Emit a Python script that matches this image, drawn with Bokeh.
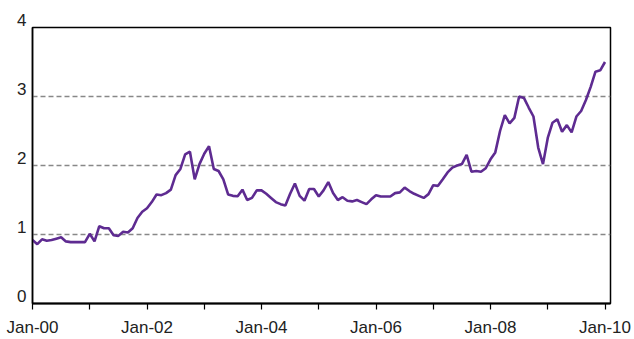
from bokeh.plotting import figure
from bokeh.models import Range1d, FixedTicker
from bokeh.embed import file_html
from bokeh.resources import INLINE

# Monthly series, Jan-2000 (month 0) to Jan-2010 (month 120)
values = [
    0.92, 0.86, 0.93, 0.91, 0.92, 0.94, 0.96, 0.90, 0.89, 0.89, 0.89, 0.89,   # 2000
    1.01, 0.90, 1.12, 1.09, 1.09, 0.99, 0.98, 1.04, 1.03, 1.09, 1.24, 1.33,   # 2001
    1.38, 1.47, 1.58, 1.57, 1.60, 1.65, 1.86, 1.95, 2.16, 2.20, 1.80, 2.02,   # 2002
    2.17, 2.28, 1.95, 1.92, 1.80, 1.58, 1.56, 1.555, 1.65, 1.50, 1.53, 1.64,  # 2003
    1.64, 1.59, 1.53, 1.47, 1.44, 1.42, 1.59, 1.74, 1.56, 1.49, 1.66, 1.66,   # 2004
    1.55, 1.64, 1.76, 1.60, 1.50, 1.54, 1.49, 1.48, 1.50, 1.47, 1.44, 1.51,   # 2005
    1.57, 1.55, 1.55, 1.55, 1.60, 1.61, 1.68, 1.63, 1.59, 1.56, 1.53, 1.585,  # 2006
    1.715, 1.705, 1.80, 1.90, 1.97, 2.00, 2.02, 2.155, 1.91, 1.92, 1.91, 1.96, # 2007
    2.09, 2.19, 2.50, 2.73, 2.61, 2.69, 3.00, 2.98, 2.84, 2.71, 2.26, 2.02,   # 2008
    2.40, 2.62, 2.67, 2.49, 2.585, 2.48, 2.71, 2.79, 2.95, 3.14, 3.36, 3.38,  # 2009
    3.50,                                                                      # Jan-2010
]
months = list(range(len(values)))

tick_months = [0, 12, 24, 36, 48, 60, 72, 84, 96, 108, 120]
tick_labels = ["Jan-00", "", "Jan-02", "", "Jan-04", "", "Jan-06", "", "Jan-08", "", "Jan-10"]
y_ticks = [0, 1, 2, 3, 4]
y_labels = ["0", "1", "2", "3", "4"]

FONT = "Liberation Sans Narrow, Liberation Sans, Arial Narrow, sans-serif"

p = figure(width=634, height=339, output_backend="svg", toolbar_location=None,
           x_range=Range1d(0, 121.15), y_range=Range1d(0, 4),
           min_border_left=32, min_border_right=24, min_border_top=27, min_border_bottom=36)

p.line(months, values, line_color="#5E2B91", line_width=2.6)

p.outline_line_color = "black"
p.outline_line_width = 1.5
p.background_fill_color = "white"
p.border_fill_color = "white"

# x axis
p.xaxis.ticker = FixedTicker(ticks=tick_months)
p.xaxis.major_label_overrides = {m: l for m, l in zip(tick_months, tick_labels)}
p.xaxis.minor_tick_line_color = None
p.xaxis.major_tick_out = 6
p.xaxis.major_tick_in = 0
p.xaxis.major_tick_line_color = "black"
p.xaxis.major_tick_line_width = 1.2
p.xaxis.axis_line_color = "black"
p.xaxis.axis_line_width = 2
p.xaxis.major_label_standoff = 8
p.xaxis.major_label_text_font = FONT
p.xaxis.major_label_text_font_size = "17px"
p.xaxis.major_label_text_color = "#222222"

# y axis: labels sit just above their values (blank second line lifts them)
p.yaxis.ticker = FixedTicker(ticks=y_ticks)
p.yaxis.major_label_overrides = {v: t + "\n" for v, t in zip(y_ticks, y_labels)}
p.yaxis.minor_tick_line_color = None
p.yaxis.major_tick_out = 0
p.yaxis.major_tick_in = 0
p.yaxis.axis_line_color = "black"
p.yaxis.axis_line_width = 1.5
p.yaxis.major_label_standoff = 6
p.yaxis.major_label_text_font = FONT
p.yaxis.major_label_text_font_size = "17px"
p.yaxis.major_label_text_line_height = 0.75
p.yaxis.major_label_text_color = "#222222"

p.xgrid.grid_line_color = None
p.ygrid.ticker = FixedTicker(ticks=[1, 2, 3])
p.ygrid.grid_line_color = "#888888"
p.ygrid.grid_line_dash = "5 3"
p.ygrid.grid_line_width = 1.3

open("out.html", "w").write(file_html(p, INLINE))
